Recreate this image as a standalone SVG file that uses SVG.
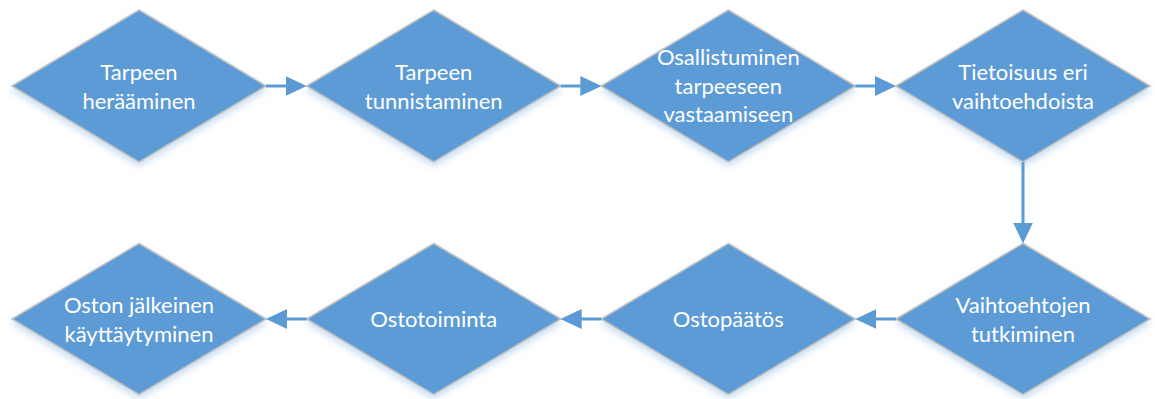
<svg xmlns="http://www.w3.org/2000/svg" width="1155" height="399" viewBox="0 0 1155 399">
  <style>
    .node polygon { fill: #5B9BD5; stroke: #BFBFBF; stroke-width: 1.5; filter: url(#glow); }
    .node text { fill: #FFFFFF; font-family: "Lato", "Liberation Sans", sans-serif; font-size: 22px; text-anchor: middle; }
    .conn line { stroke: #5B9BD5; stroke-width: 3; marker-end: url(#arrow); }
  </style>
  <defs>
    <filter id="glow" x="-10%" y="-10%" width="120%" height="130%">
      <feDropShadow dx="0" dy="4" stdDeviation="3.5" flood-color="#9DC3E6" flood-opacity="0.55"/>
    </filter>
    <marker id="arrow" markerUnits="userSpaceOnUse" markerWidth="21" markerHeight="20" refX="3" refY="10" orient="auto">
      <path d="M0,0 L21,10 L0,20 z" fill="#5B9BD5"/>
    </marker>
  </defs>
  <rect width="1155" height="399" fill="#FFFFFF"/>

  <g id="n1" class="node">
    <polygon points="139,10 266,86 139,162 12,86"/>
    <text x="139" y="80">Tarpeen</text>
    <text x="139" y="109">herääminen</text>
  </g>
  <g id="n2" class="node">
    <polygon points="433.7,10 560.7,86 433.7,162 306.7,86"/>
    <text x="433.7" y="80">Tarpeen</text>
    <text x="433.7" y="109">tunnistaminen</text>
  </g>
  <g id="n3" class="node">
    <polygon points="728.3,10 855.3,86 728.3,162 601.3,86"/>
    <text x="728.3" y="65">Osallistuminen</text>
    <text x="728.3" y="94">tarpeeseen</text>
    <text x="728.3" y="122">vastaamiseen</text>
  </g>
  <g id="n4" class="node">
    <polygon points="1023,10 1150,86 1023,162 896,86"/>
    <text x="1023" y="80">Tietoisuus eri</text>
    <text x="1023" y="109">vaihtoehdoista</text>
  </g>
  <g id="n5" class="node">
    <polygon points="1023,243.5 1150,319 1023,394.5 896,319"/>
    <text x="1023" y="313">Vaihtoehtojen</text>
    <text x="1023" y="342">tutkiminen</text>
  </g>
  <g id="n6" class="node">
    <polygon points="728.3,243.5 855.3,319 728.3,394.5 601.3,319"/>
    <text x="728.3" y="327">Ostopäätös</text>
  </g>
  <g id="n7" class="node">
    <polygon points="433.7,243.5 560.7,319 433.7,394.5 306.7,319"/>
    <text x="433.7" y="327">Ostotoiminta</text>
  </g>
  <g id="n8" class="node">
    <polygon points="139,243.5 266,319 139,394.5 12,319"/>
    <text x="139" y="313">Oston jälkeinen</text>
    <text x="139" y="342">käyttäytyminen</text>
  </g>

  <g id="connectors" class="conn">
    <line x1="266" y1="86" x2="288.7" y2="86"/>
    <line x1="560.7" y1="86" x2="583.3" y2="86"/>
    <line x1="855.3" y1="86" x2="878" y2="86"/>
    <line x1="1023" y1="162" x2="1023" y2="225.5"/>
    <line x1="896" y1="319" x2="873.3" y2="319"/>
    <line x1="601.3" y1="319" x2="578.7" y2="319"/>
    <line x1="306.7" y1="319" x2="284" y2="319"/>
  </g>
</svg>
